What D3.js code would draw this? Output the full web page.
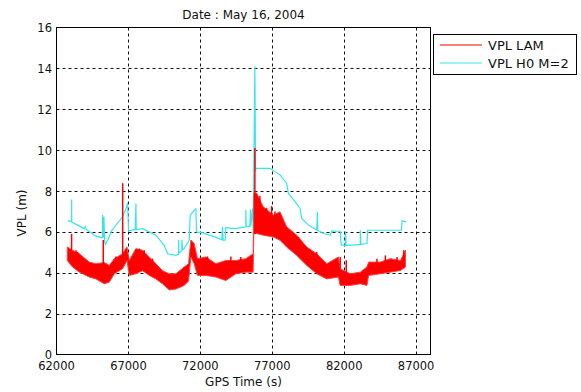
<!DOCTYPE html>
<html>
<head>
<meta charset="utf-8">
<script src="https://cdn.jsdelivr.net/npm/d3@7"></script>
<style>
  body { margin: 0; background: #fff; }
  text { font-family: "DejaVu Sans", Arial, sans-serif; fill: #111; }
</style>
</head>
<body>
<svg id="chart" width="581" height="392"></svg>
<script>
// tick labels
const xTicks = [62000, 67000, 72000, 77000, 82000, 87000];
const yTicks = [0, 2, 4, 6, 8, 10, 12, 14, 16];

// VPL LAM : band (low / high edge of the noisy trace)
const lamTime = [62750, 63120, 63590, 64280, 64740, 65320, 65670, 66020, 66600, 66900,
  67060, 67520, 67980, 68450, 68910, 69370, 69840, 70300, 70880, 71180,
  71340, 71570, 71800, 72380, 73080, 73770, 74470, 75160, 75670, 75720,
  75910, 76370, 77070, 77540, 78000, 78700, 79400, 80090, 80790, 81600,
  81720, 82420, 83120, 83580, 83700, 84510, 85210, 85910, 86260];
const lamLow = [4.6, 4.28, 4.03, 3.79, 3.7, 3.46, 3.54, 3.95, 4.2, 4.6,
  3.87, 3.95, 4.1, 3.87, 3.7, 3.46, 3.16, 3.2, 3.38, 3.6,
  4.77, 4.44, 3.87, 3.87, 3.79, 3.62, 3.95, 4.03, 4.03, 5.92,
  5.92, 5.84, 5.75, 5.59, 5.26, 4.85, 4.36, 3.95, 3.7, 3.79,
  3.38, 3.38, 3.46, 3.38, 3.87, 3.95, 4.03, 4.11, 4.28];
const lamHigh = [5.26, 5.1, 4.93, 4.52, 4.44, 4.5, 4.36, 4.69, 4.93, 5.26,
  4.6, 5.18, 5.1, 4.77, 4.44, 4.1, 3.95, 3.95, 4.28, 4.44,
  5.6, 5.43, 4.69, 4.77, 4.44, 4.6, 4.6, 4.69, 4.93, 7.9,
  7.9, 7.23, 6.82, 6.98, 6.25, 5.84, 5.26, 4.93, 4.44, 4.77,
  4.2, 3.95, 4.03, 4.28, 4.52, 4.52, 4.69, 4.6, 5.1];

// VPL LAM : isolated spikes above the band
const spikeTime = [63050, 63354, 63470, 65250, 66132, 66600, 66827, 67521, 67753, 68100,
  68679, 70878, 72498, 74119, 74813, 75790, 76139, 76605, 76953, 77186,
  78465, 78814, 80094, 80559, 81489, 81722, 82141, 84280, 84862, 85676, 86141];
const spikeBase = [5.1, 4.8, 4.7, 4.3, 4.3, 4.9, 4.9, 4.8, 4.8, 4.7,
  4.3, 3.9, 4.4, 4.3, 4.3, 5.9, 7.2, 6.8, 6.6, 6.6,
  5.4, 5.3, 4.6, 4.2, 4.3, 4.2, 3.9, 4.3, 4.4, 4.4, 4.7];
const spikePeak = [5.9, 5.1, 5.02, 5.6, 4.79, 8.38, 5.18, 5.15, 5.18, 5.1,
  4.69, 4.28, 4.8, 4.8, 4.77, 10.1, 7.75, 7.18, 7.26, 7.0,
  5.92, 5.75, 5.02, 4.52, 4.69, 4.77, 4.61, 4.69, 4.85, 4.77, 5.1];

// VPL H0 M=2
const h0Time = [62775, 63053, 63053, 63060, 63933, 64002, 64049, 64743, 65090, 65206,
  65206, 65252, 65299, 65345, 65391, 65553, 65854, 66595, 66896, 66942,
  67012, 67475, 67521, 67544, 67984, 68910, 69489, 69720, 70299, 70484,
  70484, 70507, 70716, 70716, 70762, 70878, 71225, 71294, 71642, 71688,
  71734, 72151, 72846, 73494, 73540, 73586, 73725, 73772, 74466, 75161,
  75162, 75186, 75442, 75488, 75511, 75628, 75674, 75790, 75837, 75907,
  76837, 77535, 78000, 78116, 78582, 78931, 79047, 79512, 80094, 80140,
  80163, 80559, 81024, 81140, 81489, 81722, 81792, 82071, 82094, 82140,
  83117, 83117, 83164, 83582, 83629, 85978, 86025, 86304];
const h0Vpl = [6.54, 6.51, 7.59, 6.48, 6.16, 6.25, 6.13, 5.79, 5.72, 5.72,
  6.82, 5.72, 6.74, 5.56, 5.38, 5.59, 6.08, 6.74, 7.26, 7.43,
  6.05, 6.11, 7.39, 6.11, 6.16, 5.84, 5.34, 4.93, 4.85, 4.9,
  5.62, 4.95, 5.1, 5.62, 5.13, 5.18, 5.59, 6.82, 7.1, 7.13,
  6.0, 5.95, 5.79, 5.62, 6.25, 5.59, 5.59, 6.21, 6.16, 6.25,
  7.07, 6.25, 6.28, 7.1, 6.28, 7.15, 6.1, 14.1, 9.03, 9.11,
  9.11, 8.79, 8.38, 7.89, 7.48, 7.15, 6.66, 6.33, 6.08, 6.98,
  6.08, 5.92, 5.84, 6.05, 6.03, 6.03, 5.36, 5.33, 6.03, 5.33,
  5.39, 6.08, 5.39, 5.43, 6.08, 6.08, 6.54, 6.49];

const seriesNames = ['VPL LAM', 'VPL H0 M=2'];
const seriesColors = ['#ff0000', '#33e6ee'];

const svg = d3.select('#chart');

const plotLeft = 56.5, plotRight = 430.5, plotTop = 27.5, plotBottom = 354.5;

const x = d3.scaleLinear().domain([62000, 88000]).range([plotLeft, plotRight]);
const y = d3.scaleLinear().domain([0, 16]).range([plotBottom, plotTop]);

// grid
svg.append('g')
.selectAll('line')
.data(xTicks.slice(1))
.join('line')
.attr('x1', d => Math.round(x(d)) + 0.5)
.attr('x2', d => Math.round(x(d)) + 0.5)
.attr('y1', plotTop)
.attr('y2', plotBottom)
.attr('stroke', '#111')
.attr('stroke-dasharray', '3,3');

svg.append('g')
.selectAll('line')
.data(yTicks.slice(1, -1))
.join('line')
.attr('x1', plotLeft)
.attr('x2', plotRight)
.attr('y1', d => Math.round(y(d)) + 0.5)
.attr('y2', d => Math.round(y(d)) + 0.5)
.attr('stroke', '#111')
.attr('stroke-dasharray', '3,3');

// H0 line (under the LAM band)
const h0 = h0Time.map((t, i) => [t, h0Vpl[i]]);
svg.append('path')
.datum(h0)
.attr('d', d3.line().x(d => x(d[0])).y(d => y(d[1])))
.attr('fill', 'none')
.attr('stroke', seriesColors[1])
.attr('stroke-width', 1.2);

// LAM band
const lam = lamTime.map((t, i) => ({t: t, lo: lamLow[i], hi: lamHigh[i]}));
svg.append('path')
.datum(lam)
.attr('d', d3.area().x(d => x(d.t)).y0(d => y(d.lo)).y1(d => y(d.hi)))
.attr('fill', seriesColors[0])
.attr('stroke', '#ff4040')
.attr('stroke-width', 1);

svg.append('g')
.selectAll('line')
.data(spikeTime)
.join('line')
.attr('x1', d => x(d))
.attr('x2', d => x(d))
.attr('y1', (d, i) => y(spikeBase[i]))
.attr('y2', (d, i) => y(spikePeak[i]))
.attr('stroke', seriesColors[0])
.attr('stroke-width', 1.5);

// axes box
svg.append('rect')
.attr('x', plotLeft)
.attr('y', plotTop)
.attr('width', plotRight - plotLeft)
.attr('height', plotBottom - plotTop)
.attr('fill', 'none')
.attr('stroke', '#000');

// tick labels
svg.append('g')
.selectAll('text')
.data(xTicks)
.join('text')
.attr('x', d => x(d))
.attr('y', 370)
.attr('text-anchor', 'middle')
.style('font-size', '11.5px')
.text(d => d);

svg.append('g')
.selectAll('text')
.data(yTicks)
.join('text')
.attr('x', 52)
.attr('y', d => y(d) + 4.5)
.attr('text-anchor', 'end')
.style('font-size', '11.5px')
.text(d => d);

// titles
svg.append('text')
.attr('x', (plotLeft + plotRight) / 2)
.attr('y', 19)
.attr('text-anchor', 'middle')
.style('font-size', '12px')
.text('Date : May 16, 2004');

svg.append('text')
.attr('x', (plotLeft + plotRight) / 2)
.attr('y', 386)
.attr('text-anchor', 'middle')
.style('font-size', '12px')
.text('GPS Time (s)');

svg.append('text')
.attr('transform', 'translate(26,213) rotate(-90)')
.attr('text-anchor', 'middle')
.style('font-size', '12px')
.text('VPL (m)');

// legend
const legend = svg.append('g');

legend.append('rect')
.attr('x', 433.5)
.attr('y', 34.5)
.attr('width', 143)
.attr('height', 40)
.attr('fill', '#fff')
.attr('stroke', '#000');

seriesNames.forEach((name, i) => {
  let ly = 45 + i * 18;
  legend.append('line')
  .attr('x1', 440)
  .attr('x2', 482)
  .attr('y1', ly)
  .attr('y2', ly)
  .attr('stroke', seriesColors[i])
  .attr('stroke-width', 1.2);
  legend.append('text')
  .attr('x', 488)
  .attr('y', ly + 5)
  .style('font-size', '13px')
  .text(name);
});
</script>
</body>
</html>
